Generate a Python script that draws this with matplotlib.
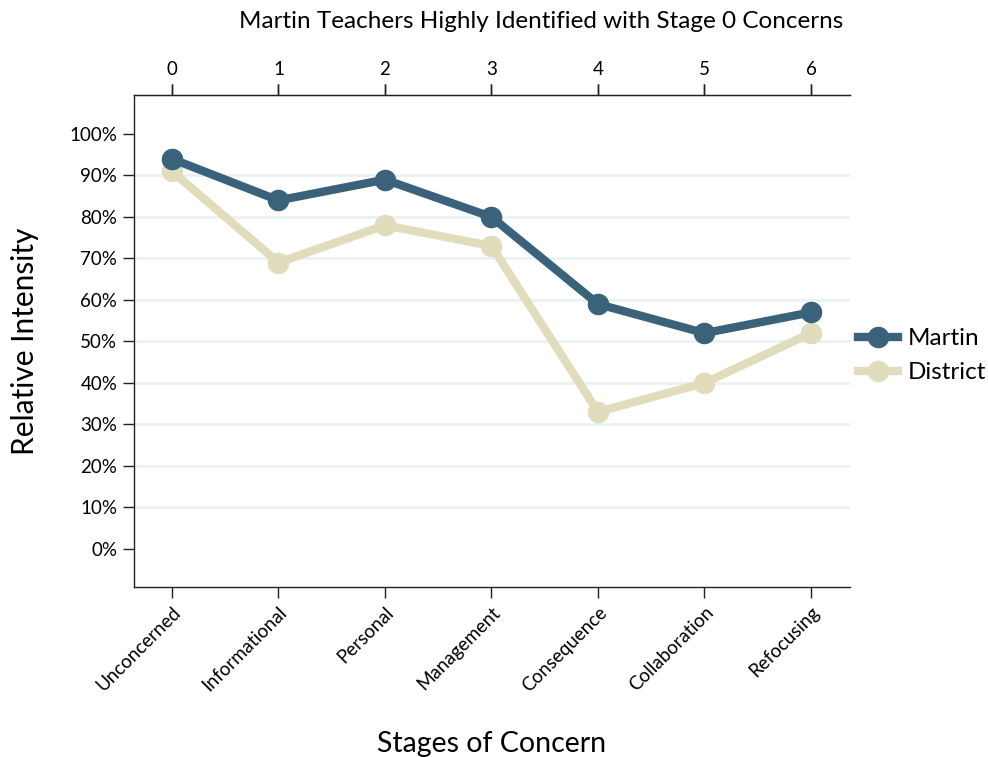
import matplotlib
matplotlib.use('Agg')
import matplotlib.pyplot as plt

plt.rcParams['font.family'] = ['Lato', 'DejaVu Sans']

stages = [0, 1, 2, 3, 4, 5, 6]
stage_names = ['Unconcerned', 'Informational', 'Personal', 'Management',
               'Consequence', 'Collaboration', 'Refocusing']
martin = [94, 84, 89, 80, 59, 52, 57]
district = [91, 69, 78, 73, 33, 40, 52]
yticks = [0, 10, 20, 30, 40, 50, 60, 70, 80, 90, 100]

fig = plt.figure(figsize=(9.88, 7.57), dpi=100)
ax = fig.add_axes([0.1356, 0.2246, 0.7247, 0.6499])

for y in yticks[1:-1]:
    ax.axhline(y, color='#EAF2F4', lw=2, zorder=0)

ax.plot(stages, martin, color='#3A627A', lw=6, marker='o', ms=14.5, label='Martin', zorder=3)
ax.plot(stages, district, color='#E0DCBC', lw=6, marker='o', ms=14.5, label='District', zorder=2)

ax.set_xlim(-0.357, 6.366)
ax.set_ylim(-9.2, 109.4)
ax.set_yticks(yticks)
ax.set_yticklabels(['%d%%' % v for v in yticks], fontsize=13.5)
ax.set_xticks(stages)
ax.set_xticklabels(stage_names, rotation=45, ha='right', rotation_mode='anchor', fontsize=13.5)
ax.tick_params(axis='both', direction='out', length=8, width=1, color='#222222', pad=4)
ax.tick_params(axis='x', top=True, labeltop=False)

top = ax.secondary_xaxis('top')
top.set_xticks(stages)
top.set_xticklabels([str(s) for s in stages], fontsize=13.5)
top.tick_params(direction='out', length=8, width=1, pad=4)

ax.spines['right'].set_visible(False)
for s in ['left', 'bottom', 'top']:
    ax.spines[s].set_color('#222222')
    ax.spines[s].set_linewidth(1)

fig.text(0.5476, 1 - 22 / 757, 'Martin Teachers Highly Identified with Stage 0 Concerns',
         fontsize=17.5, ha='center', va='center')
ax.set_ylabel('Relative Intensity', fontsize=21.5, labelpad=22)
ax.set_xlabel('Stages of Concern', fontsize=20.5, labelpad=26)

ax.legend(loc='center left', bbox_to_anchor=(1.011, 0.47), frameon=False, fontsize=17.5,
          handlelength=1.65, handletextpad=0.4, borderaxespad=0, borderpad=0,
          labelspacing=0.55)

fig.savefig('out.png', dpi=100)
